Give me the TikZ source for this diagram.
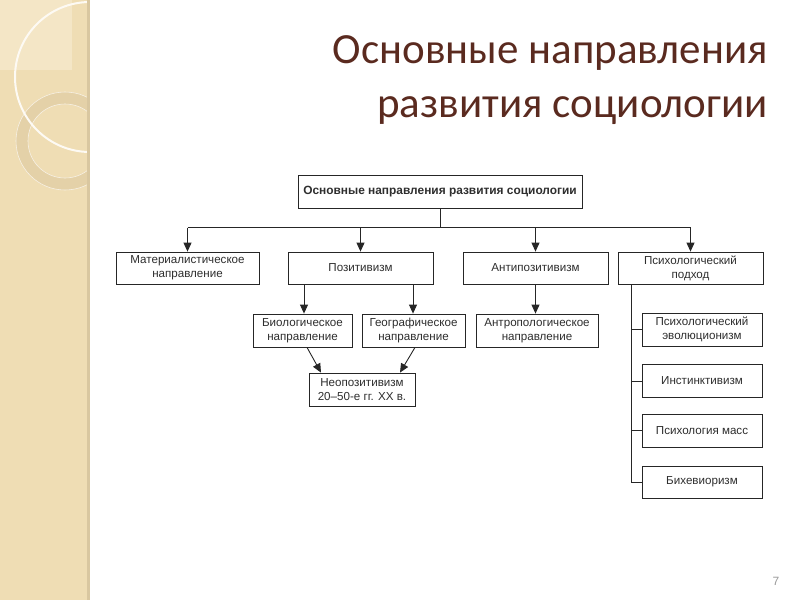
\documentclass[tikz,border=0pt]{standalone}
\usepackage{fontspec}
\setmainfont{Liberation Sans}
\newfontfamily\titlefont{Carlito}
\usetikzlibrary{arrows.meta,calc}
\definecolor{band}{HTML}{EFDDB4}
\definecolor{bandlight}{HTML}{F4E6C6}
\definecolor{bandedge}{HTML}{D9C7A0}
\definecolor{ringc}{HTML}{E4D1A8}
\definecolor{titlec}{HTML}{5A2A1F}
\definecolor{boxtext}{HTML}{2E2E2E}
\tikzset{
  box/.style={draw=black!85, line width=0.8pt, fill=white, align=center,
    text=boxtext, font=\fontsize{11.6}{13.8}\selectfont, inner sep=1pt},
  conn/.style={draw=black!85, line width=0.9pt},
  arr/.style={conn, -{Triangle[width=8pt,length=9pt]}},
}
\begin{document}
\begin{tikzpicture}[x=1pt,y=-1pt]
\useasboundingbox (0,0) rectangle (800,600);
% left decorative band
\fill[band] (0,0) rectangle (88,600);
\begin{scope}
\clip (0,0) rectangle (88,600);
\fill[bandlight] (0,0) rectangle (72,70);
\fill[ringc, even odd rule] (65,141) circle (49) (65,141) circle (37);
\draw[white!70!ringc, line width=0.6pt] (65,141) circle (49) (65,141) circle (37);
\draw[white!85!band, line width=2pt] (90,77) circle (75);
\end{scope}
\fill[bandedge] (87,0) rectangle (89.5,600);
% title
\node[anchor=base east, text=titlec, font=\titlefont\fontsize{43}{52}\selectfont, inner sep=0pt] (t1) at (768,63) {Основные направления};
\node[anchor=base east, text=titlec, font=\titlefont\fontsize{43}{52}\selectfont, inner sep=0pt] (t2) at (768,117) {развития социологии};
% page number
\node[text=black!40, font=\fontsize{12}{14}\selectfont, inner sep=0pt] (pg) at (776,581) {7};
% boxes
\node[box, minimum width=284pt, minimum height=33pt, font=\bfseries\fontsize{11.9}{13.5}\selectfont] (top) at (440,191.5) {Основные направления развития социологии};
\node[box, minimum width=143pt, minimum height=32pt] (mat) at (187.5,268) {Материалистическое\\направление};
\node[box, minimum width=145pt, minimum height=32pt] (poz) at (360.5,268) {Позитивизм};
\node[box, minimum width=145pt, minimum height=32pt] (anti) at (535.5,268) {Антипозитивизм};
\node[box, minimum width=145pt, minimum height=32pt] (psy) at (690.5,268) {Психологический\\подход};
\node[box, minimum width=99pt, minimum height=33pt] (bio) at (302.5,330.5) {Биологическое\\направление};
\node[box, minimum width=103pt, minimum height=33pt] (geo) at (413.5,330.5) {Географическое\\направление};
\node[box, minimum width=122pt, minimum height=33pt] (anthro) at (537,330.5) {Антропологическое\\направление};
\node[box, minimum width=106pt, minimum height=33pt] (neo) at (362,389.5) {Неопозитивизм\\20--50-е гг. XX в.};
\node[box, minimum width=120pt, minimum height=33pt] (p1) at (702,329.5) {Психологический\\эволюционизм};
\node[box, minimum width=120pt, minimum height=33pt] (p2) at (702,381) {Инстинктивизм};
\node[box, minimum width=120pt, minimum height=33pt] (p3) at (702,430.5) {Психология масс};
\node[box, minimum width=120pt, minimum height=32pt] (p4) at (702,482) {Бихевиоризм};
% connectors
\coordinate (bar) at (440,227.5);
\draw[conn] (top.south) -- (bar);
\draw[conn] (mat.north |- bar) -- (psy.north |- bar);
\draw[arr] (mat.north |- bar) -- (mat.north);
\draw[arr] (poz.north |- bar) -- (poz.north);
\draw[arr] (anti.north |- bar) -- (anti.north);
\draw[arr] (psy.north |- bar) -- (psy.north);
\coordinate (pa) at (304,0);
\coordinate (pb) at (413,0);
\draw[arr] (pa |- poz.south) -- (pa |- bio.north);
\draw[arr] (pb |- poz.south) -- (pb |- geo.north);
\draw[arr] (anti.south) -- (anti.south |- anthro.north);
\draw[arr] ([xshift=4.5pt]bio.south) -- ([xshift=-41pt]neo.north);
\draw[arr] ([xshift=1.5pt]geo.south) -- ([xshift=38pt]neo.north);
\coordinate (pv) at (631,0);
\draw[conn] (pv |- psy.south) -- (pv |- p4.west) -- (p4.west);
\draw[conn] (pv |- p1.west) -- (p1.west);
\draw[conn] (pv |- p2.west) -- (p2.west);
\draw[conn] (pv |- p3.west) -- (p3.west);
\end{tikzpicture}
\end{document}
